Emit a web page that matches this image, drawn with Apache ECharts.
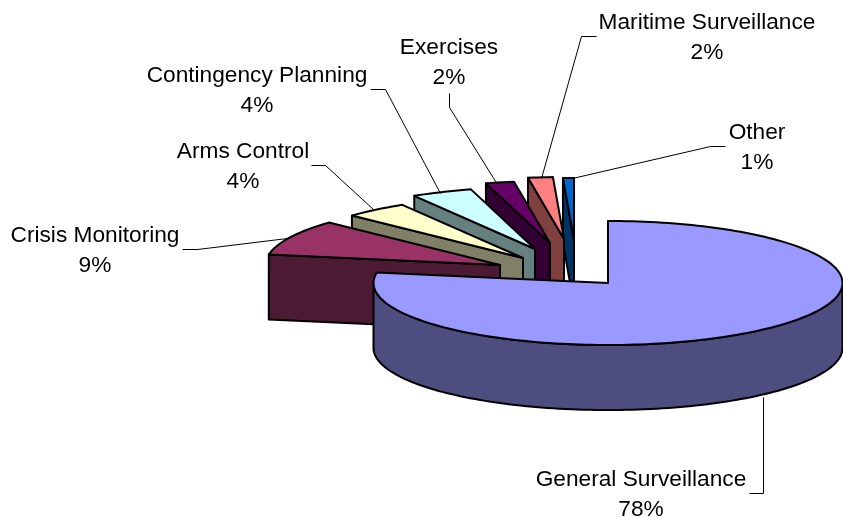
<!DOCTYPE html>
<html>
<head>
<meta charset="utf-8">
<style>html,body{margin:0;padding:0;background:#fff}#c{width:843px;height:517px}</style>
<script src="https://cdn.jsdelivr.net/npm/echarts@6/dist/echarts.min.js"></script>
</head>
<body>
<div id="c"></div>
<script>
// Data, clockwise from 12 o'clock
var categories = ['General Surveillance','Crisis Monitoring','Arms Control','Contingency Planning','Exercises','Maritime Surveillance','Other'];
var shares = [77.6, 9.3, 4.4, 4.2, 1.95, 1.7, 0.75];

// Styles
var topColors  = ['#9999FF','#993366','#FFFFCC','#CCFFFF','#660066','#FF8080','#0066CC'];
var wallColors = ['#4D4D80','#4D1A33','#808066','#668080','#330033','#804040','#003366'];

// Layout of the tilted pie
var PIVOT = [608, 283], RX = 234.5, RY = 62, DEPTH = 65;
var explodeOffsets = [[0,0],[-108,-18],[-85,-25],[-73,-34],[-58,-40],[-44,-44],[-34,-43]];
var labelCentres = [[641,480],[95,236],[243,152],[257,76],[449,48],[707,23],[757,133]];
var LINE_GAP = 30;
var leaders = [
  [[749,493],[763,493],[763,397]],
  [[182,249],[197,249],[287,238]],
  [[311,165],[325,165],[373,209]],
  [[370,89],[385,89],[440,193]],
  [[449,93],[449,107],[497,184]],
  [[596,36],[581,36],[541,178]],
  [[725,146],[710,146],[572,178]]
];

var total = shares.reduce(function(a,b){return a+b;},0);
var starts = [];
shares.reduce(function(acc,v,i){starts[i]=acc;return acc+v;},0);

function rim(c, deg, dy){
  var t = deg*Math.PI/180;
  return [c[0]+RX*Math.sin(t), c[1]-RY*Math.cos(t)+(dy||0)];
}
function arc(c, a, b, dy){
  var pts=[], n=Math.max(4,Math.ceil(Math.abs(b-a)/1.5));
  for(var i=0;i<=n;i++) pts.push(rim(c,a+(b-a)*i/n,dy));
  return pts;
}
function face(points, fill, z2){
  return {type:'polygon', z2:z2, shape:{points:points},
    style:{fill:fill, stroke:'#000', lineWidth:2, lineJoin:'round'}};
}

function renderItem(params, api){
  var i = params.dataIndex;
  var value = api.value(1);
  var a = starts[i]/total*360, b = a+value/total*360;
  var c = [PIVOT[0]+explodeOffsets[i][0], PIVOT[1]+explodeOffsets[i][1]];
  var z = (categories.length-i)*10;
  var children = [];
  // visible side wall
  if (a < 270 && b > 90) { // curved front wall
    var f = Math.max(a,90), g = Math.min(b,270);
    var upper = arc(c,f,g,0), lower = arc(c,f,g,DEPTH).reverse();
    children.push(face(upper.concat(lower), wallColors[i], z));
  }
  if (a >= 180) { // radial wall at the leading edge
    var o = rim(c,a,0);
    children.push(face([o,c,[c[0],c[1]+DEPTH],[o[0],o[1]+DEPTH]], wallColors[i], z));
  }
  // top surface
  children.push(face([c].concat(arc(c,a,b,0)), topColors[i], z+1));
  // leader line
  children.push({type:'polyline', z2:500,
    shape:{points:leaders[i].map(function(p){return [p[0]+0.5,p[1]+0.5];})},
    style:{fill:null, stroke:'#000', lineWidth:1}});
  // label
  var pct = Math.round(value/total*100)+'%';
  [categories[i], pct].forEach(function(t,k){
    children.push({type:'text', z2:501, x:labelCentres[i][0], y:labelCentres[i][1]+k*LINE_GAP,
      style:{text:t, fill:'#000', font:'22.7px "Liberation Sans", Arial, sans-serif', align:'center', verticalAlign:'middle'}});
  });
  return {type:'group', children:children};
}

var chart = echarts.init(document.getElementById('c'), null, {renderer:'canvas'});
chart.setOption({
  backgroundColor:'#fff',
  animation:false,
  series:[{
    type:'custom',
    coordinateSystem:'none',
    renderItem:renderItem,
    encode:{itemName:0, value:1},
    data:categories.map(function(n,i){return [n, shares[i]];})
  }]
});
</script>
</body>
</html>
